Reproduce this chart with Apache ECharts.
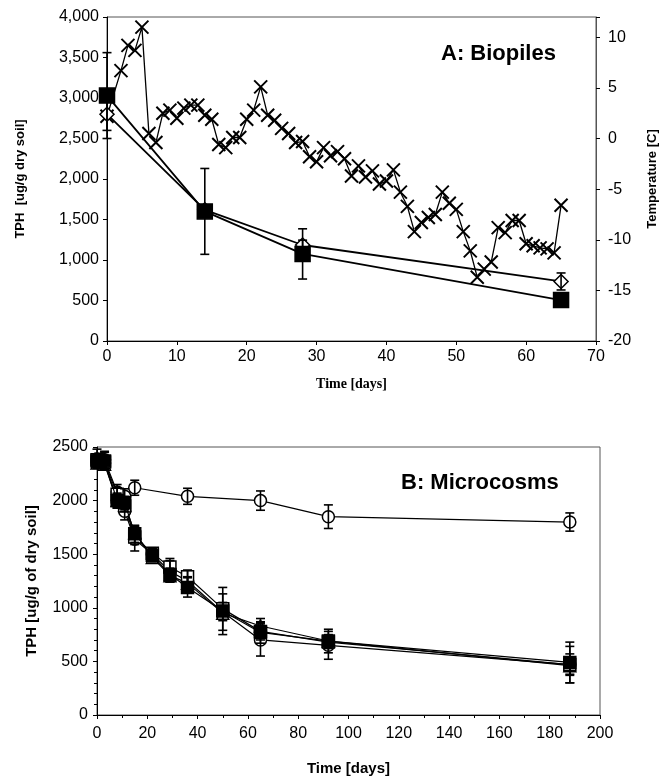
<!DOCTYPE html>
<html><head><meta charset="utf-8">
<script src="https://cdn.jsdelivr.net/npm/echarts@6/dist/echarts.min.js"></script>
<style>html,body{margin:0;padding:0;background:#fff}#c{width:670px;height:780px}</style>
</head><body><div id="c"></div>
<script>
// ---- Panel A: Biopiles ----
const biopileDays = [0, 14, 28, 65];
const biopileSquare = [3030, 1600, 1075, 505];
const biopileSquareErr = [530, 530, 310, 80];
const biopileDiamond = [2800, 1620, 1185, 735];
const biopileDiamondErr = [200, 0, 60, 105];

const tempDays = [0, 2, 3, 4, 5, 6, 7, 8, 9, 10, 11, 12, 13, 14, 15, 16, 17, 18, 19, 20, 21, 22, 23, 24, 25, 26, 27, 28, 29, 30, 31, 32, 33, 34, 35, 36, 37, 38, 39, 40, 41, 42, 43, 44, 45, 46, 47, 48, 49, 50, 51, 52, 53, 54, 55, 56, 57, 58, 59, 60, 61, 62, 63, 64, 65];
const tempValues = [2.2, 6.7, 9.2, 8.7, 11.0, 0.5, -0.4, 2.5, 2.8, 2.0, 3.0, 3.3, 3.3, 2.3, 1.9, -0.6, -0.9, 0.1, 0.1, 1.9, 2.8, 5.1, 2.3, 1.8, 1.0, 0.5, -0.4, -0.3, -1.8, -2.3, -0.9, -1.7, -1.3, -2.0, -3.7, -2.7, -3.8, -3.2, -4.5, -4.2, -3.1, -5.3, -6.7, -9.2, -8.3, -7.8, -7.5, -5.3, -6.4, -7.0, -9.2, -11.1, -13.7, -12.9, -12.2, -8.8, -9.3, -8.1, -8.1, -10.4, -10.6, -10.8, -10.9, -11.3, -6.6];

// ---- Panel B: Microcosms ----
const microDays = [0, 3, 8, 11, 15, 22, 29, 36, 50, 65, 92, 188];
const filledSquare = [2370, 2370, 2000, 1980, 1690, 1490, 1310, 1190, 970, 770, 690, 490];
const filledSquareErr = [60, 80, 60, 60, 80, 60, 60, 90, 220, 100, 110, 190];
const openSquare = [2380, 2360, 2060, 1950, 1660, 1510, 1380, 1290, 990, 780, 680, 470];
const openSquareErr = [50, 60, 60, 50, 70, 50, 80, 60, 60, 80, 60, 100];
const openTriangle = [2350, 2340, 2000, 1960, 1700, 1470, 1300, 1230, 950, 830, 690, 460];
const openTriangleErr = [40, 50, 70, 60, 60, 40, 60, 60, 70, 70, 60, 80];
const openCircle = [2360, 2350, 1990, 1900, 1640, 1500, 1340, 1250, 960, 700, 650, 470];
const openCircleErr = [50, 60, 60, 80, 110, 50, 100, 100, 170, 150, 130, 170];

const controlDays = [0, 3, 8, 11, 15, 36, 65, 92, 188];
const controlValues = [2390, 2380, 2080, 2040, 2120, 2040, 2000, 1850, 1800];
const controlErr = [90, 80, 70, 70, 70, 75, 90, 110, 85];

const SANS = '"Liberation Sans", Arial, sans-serif';
const SERIF = '"Liberation Serif", "Times New Roman", serif';

function zip(xs, ys) { return xs.map((x, i) => [x, ys[i]]); }

function errBars(xs, ys, es, xi, yi, z) {
  const data = [];
  xs.forEach((x, i) => { if (es[i] > 0) data.push([x, ys[i] - es[i], ys[i] + es[i]]); });
  return {
    type: 'custom', xAxisIndex: xi, yAxisIndex: yi, z: z || 3, silent: true,
    data: data,
    encode: { x: 0, y: [1, 2] },
    renderItem: function (params, api) {
      const lo = api.coord([api.value(0), api.value(1)]);
      const hi = api.coord([api.value(0), api.value(2)]);
      const w = 4.5;
      const st = { stroke: '#000', lineWidth: 1.6 };
      return {
        type: 'group', children: [
          { type: 'line', shape: { x1: lo[0], y1: lo[1], x2: hi[0], y2: hi[1] }, style: st },
          { type: 'line', shape: { x1: lo[0] - w, y1: lo[1], x2: lo[0] + w, y2: lo[1] }, style: st },
          { type: 'line', shape: { x1: hi[0] - w, y1: hi[1], x2: hi[0] + w, y2: hi[1] }, style: st }
        ]
      };
    }
  };
}

function lineSeries(xs, ys, xi, yi, symbol, size, fill, lw, z) {
  return {
    type: 'line', xAxisIndex: xi, yAxisIndex: yi, data: zip(xs, ys),
    symbol: symbol, symbolSize: size, showAllSymbol: true, z: z || 2,
    lineStyle: { color: '#000', width: lw || 1.5 },
    itemStyle: { color: fill, borderColor: '#000', borderWidth: 1.5 },
    emphasis: { disabled: true }, animation: false
  };
}

const axisLineStyle = { show: true, lineStyle: { color: '#000', width: 1 } };
const tickStyle = { show: true, length: 4, lineStyle: { color: '#000' } };
const labelTop = { color: '#000', fontFamily: SANS, fontSize: 16 };
const labelBot = { color: '#000', fontFamily: SANS, fontSize: 16 };

const option = {
  animation: false,
  backgroundColor: '#fff',
  title: [
    { text: 'A: Biopiles', left: 436, top: 38, textStyle: { fontFamily: SANS, fontWeight: 'bold', fontSize: 22, color: '#000' } },
    { text: 'B: Microcosms', left: 396, top: 467, textStyle: { fontFamily: SANS, fontWeight: 'bold', fontSize: 22, color: '#000' } }
  ],
  grid: [
    { left: 107, top: 17, width: 489, height: 324, show: true, borderColor: '#555', borderWidth: 1 },
    { left: 97, top: 447, width: 503, height: 268, show: true, borderColor: '#555', borderWidth: 1 }
  ],
  xAxis: [
    {
      type: 'value', gridIndex: 0, min: 0, max: 70, interval: 10,
      axisLine: axisLineStyle, axisTick: tickStyle, splitLine: { show: false },
      axisLabel: Object.assign({ margin: 8 }, labelTop),
      name: 'Time [days]', nameLocation: 'middle', nameGap: 36,
      nameTextStyle: { fontFamily: SERIF, fontWeight: 'bold', fontSize: 14, color: '#000' }
    },
    {
      type: 'value', gridIndex: 1, min: 0, max: 200, interval: 20,
      axisLine: axisLineStyle, axisTick: tickStyle, splitLine: { show: false },
      minorTick: { show: true, splitNumber: 2, length: 3, lineStyle: { color: '#000' } },
      axisLabel: Object.assign({ margin: 11 }, labelBot),
      name: 'Time [days]', nameLocation: 'middle', nameGap: 46,
      nameTextStyle: { fontFamily: SANS, fontWeight: 'bold', fontSize: 15, color: '#000' }
    }
  ],
  yAxis: [
    {
      type: 'value', gridIndex: 0, min: 0, max: 4000, interval: 500, position: 'left',
      axisLine: axisLineStyle, axisTick: tickStyle, splitLine: { show: false },
      axisLabel: Object.assign({ margin: 8, formatter: v => v.toLocaleString('en-US') }, labelTop),
      name: 'TPH  [ug/g dry soil]', nameLocation: 'middle', nameGap: 80,
      nameTextStyle: { fontFamily: SANS, fontWeight: 'bold', fontSize: 13, color: '#000' }
    },
    {
      type: 'value', gridIndex: 0, min: -20, max: 12, interval: 5, position: 'right',
      axisLine: { show: true, lineStyle: { color: '#555', width: 1 } }, axisTick: tickStyle, splitLine: { show: false },
      axisLabel: Object.assign({ margin: 12, formatter: v => (v > 10 ? '' : String(v)) }, labelTop),
      name: 'Temperature [C]', nameLocation: 'middle', nameGap: 50, nameRotate: 90,
      nameTextStyle: { fontFamily: SANS, fontWeight: 'bold', fontSize: 13, color: '#000' }
    },
    {
      type: 'value', gridIndex: 1, min: 0, max: 2500, interval: 500,
      axisLine: axisLineStyle, axisTick: tickStyle, splitLine: { show: false },
      minorTick: { show: true, splitNumber: 5, length: 3, lineStyle: { color: '#000' } },
      axisLabel: Object.assign({ margin: 9, formatter: v => String(v) }, labelBot),
      name: 'TPH [ug/g of dry soil]', nameLocation: 'middle', nameGap: 58,
      nameTextStyle: { fontFamily: SANS, fontWeight: 'bold', fontSize: 15, color: '#000' }
    }
  ],
  series: [
    // Temperature
    {
      type: 'line', xAxisIndex: 0, yAxisIndex: 1, data: zip(tempDays, tempValues),
      symbol: 'path://M0,0L10,10M10,0L0,10', symbolSize: 13, showAllSymbol: true,
      lineStyle: { color: '#000', width: 1.3 },
      itemStyle: { color: 'none', borderColor: '#000', borderWidth: 2 },
      emphasis: { disabled: true }, z: 2
    },
    lineSeries(biopileDays, biopileDiamond, 0, 0, 'diamond', 14, '#fff', 1.8, 3),
    lineSeries(biopileDays, biopileSquare, 0, 0, 'rect', 15, '#000', 1.8, 3),
    errBars(biopileDays, biopileSquare, biopileSquareErr, 0, 0, 4),
    errBars(biopileDays, biopileDiamond, biopileDiamondErr, 0, 0, 4),

    // Microcosms
    lineSeries(controlDays, controlValues, 1, 2, 'circle', 12, '#fff', 1.2, 3),
    errBars(controlDays, controlValues, controlErr, 1, 2, 5),
    lineSeries(microDays, openCircle, 1, 2, 'circle', 12, '#fff', 1.2, 3),
    lineSeries(microDays, openTriangle, 1, 2, 'triangle', 12, '#fff', 1.2, 3),
    lineSeries(microDays, openSquare, 1, 2, 'rect', 12, '#fff', 1.2, 3),
    lineSeries(microDays, filledSquare, 1, 2, 'rect', 12, '#000', 1.2, 4),
    errBars(microDays, openCircle, openCircleErr, 1, 2, 5),
    errBars(microDays, openTriangle, openTriangleErr, 1, 2, 5),
    errBars(microDays, openSquare, openSquareErr, 1, 2, 5),
    errBars(microDays, filledSquare, filledSquareErr, 1, 2, 5)
  ]
};

const chart = echarts.init(document.getElementById('c'), null, { renderer: 'canvas' });
chart.setOption(option);
</script>
</body></html>
